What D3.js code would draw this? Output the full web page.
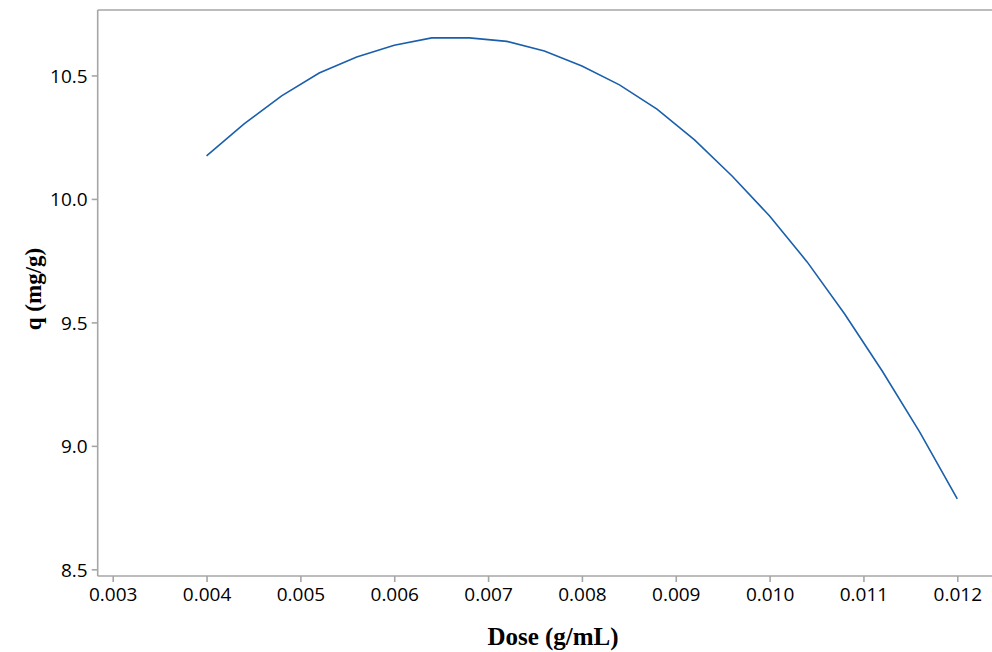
<!DOCTYPE html>
<html><head><meta charset="utf-8">
<script src="https://cdn.jsdelivr.net/npm/d3@7"></script>
<style>body{margin:0;background:#fff}</style>
</head><body>
<svg id="chart" width="992" height="652"></svg>
<script>
const doses = [0.004,0.0044,0.0048,0.0052,0.0056,0.006,0.0064,0.0068,0.0072,0.0076,0.008,0.0084,0.0088,0.0092,0.0096,0.010,0.0104,0.0108,0.0112,0.0116,0.012];
const qValues = [10.174,10.304,10.417,10.510,10.575,10.622,10.652,10.652,10.638,10.599,10.538,10.462,10.364,10.239,10.093,9.931,9.745,9.534,9.303,9.056,8.785];
const xTicks = [0.003,0.004,0.005,0.006,0.007,0.008,0.009,0.010,0.011,0.012];
const yTicks = [8.5,9.0,9.5,10.0,10.5];
const xTitle = "Dose (g/mL)";
const yTitle = "q (mg/g)";

const svg = d3.select("#chart");
const mLeft = 97.7, mRight = 992, mTop = 10, mBottom = 576;
const x = d3.scaleLinear().domain([0.00284, 0.01237]).range([mLeft, mRight]);
const y = d3.scaleLinear().domain([8.473, 10.765]).range([mBottom, mTop]);
const axisColor = "#a6a6a6";
const tickFont = "'Open Sans', 'Noto Sans', sans-serif";

svg.append("line").attr("x1", mLeft).attr("x2", mRight).attr("y1", mTop).attr("y2", mTop)
  .attr("stroke", axisColor).attr("stroke-width", 1.6);

const xAxis = svg.append("g").attr("transform", `translate(0,${mBottom})`)
  .call(d3.axisBottom(x).tickValues(xTicks).tickFormat(d3.format(".3f")).tickSizeOuter(0).tickSize(6).tickPadding(6));
const yAxis = svg.append("g").attr("transform", `translate(${mLeft},0)`)
  .call(d3.axisLeft(y).tickValues(yTicks).tickFormat(d3.format(".1f")).tickSizeOuter(0).tickSize(6).tickPadding(4));
[xAxis, yAxis].forEach(g => {
  g.select(".domain").attr("stroke", axisColor).attr("stroke-width", 1.6);
  g.selectAll(".tick line").attr("stroke", axisColor).attr("stroke-width", 1.6);
  g.selectAll(".tick text").attr("fill", "#000").style("font-family", tickFont).style("font-size", "19px");
});
yAxis.selectAll(".tick text").attr("dy", "0.36em");
xAxis.select(".domain").attr("d", `M${mLeft},0H${mRight}`);
yAxis.select(".domain").attr("d", `M0,${mTop}V${mBottom}`);

svg.append("path").datum(doses.map((d, i) => [d, qValues[i]]))
  .attr("fill", "none").attr("stroke", "#1a5fac").attr("stroke-width", 1.6)
  .attr("d", d3.line().x(d => x(d[0])).y(d => y(d[1])));

svg.append("text").attr("x", 553).attr("y", 645).attr("text-anchor", "middle")
  .style("font-family", "'Liberation Serif', 'Times New Roman', serif").style("font-weight", "bold").style("font-size", "25px")
  .text(xTitle);
svg.append("text").attr("transform", "translate(41,289) rotate(-90)").attr("text-anchor", "middle")
  .style("font-family", "'Liberation Serif', 'Times New Roman', serif").style("font-weight", "bold").style("font-size", "23px")
  .text(yTitle);
</script>
</body></html>
